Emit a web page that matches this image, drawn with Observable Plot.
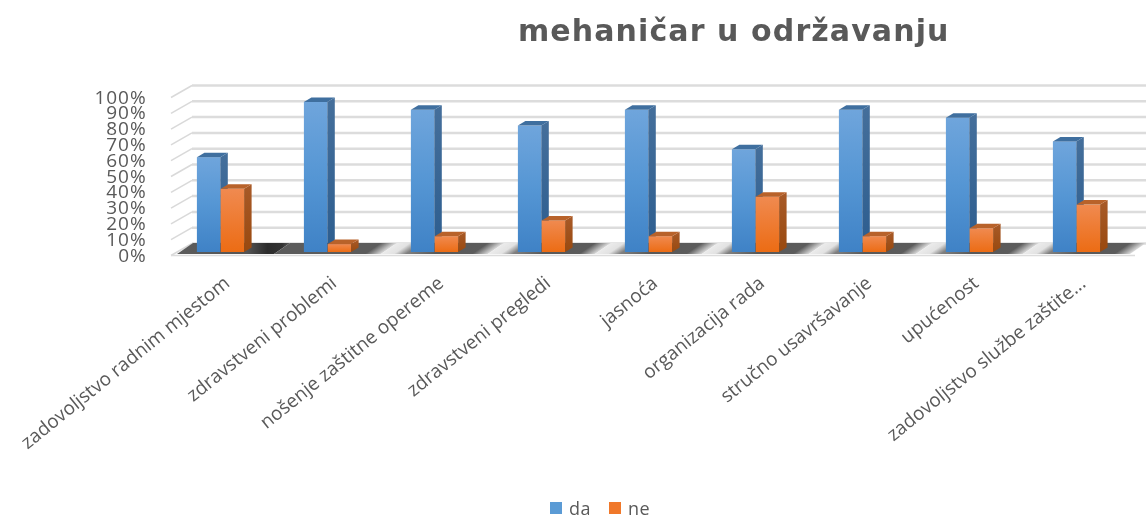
<!DOCTYPE html>
<html><head><meta charset="utf-8">
<script src="https://cdn.jsdelivr.net/npm/d3@7"></script>
<script src="https://cdn.jsdelivr.net/npm/@observablehq/plot@0.6"></script>
<style>
html,body{margin:0;padding:0;background:#fff;overflow:hidden}
#title{height:60px;box-sizing:border-box;padding:13px 0 0 518px;font:bold 30px/36px "DejaVu Sans",sans-serif;letter-spacing:1.1px;color:#595959;white-space:nowrap;filter:blur(.5px)}
#chart{filter:blur(.55px)}
#legend{height:36px;position:relative;font:18px "Open Sans",sans-serif;letter-spacing:.5px;color:#595959;filter:blur(.5px)}
#legend span{position:absolute;top:20px;line-height:16px}
#legend i{position:absolute;top:22px;width:12px;height:12px}
g[aria-label="y-axis tick label"]{letter-spacing:.9px}
</style></head><body>
<div id="title">mehaničar u održavanju</div>
<div id="chart"></div>
<div id="legend"><i style="left:550px;background:#5b9bd5"></i><span style="left:569px">da</span><i style="left:609px;background:#f0782a"></i><span style="left:628px">ne</span></div>
<script>
const categories = ["zadovoljstvo radnim mjestom","zdravstveni problemi","nošenje zaštitne opereme","zdravstveni pregledi","jasnoća","organizacija rada","stručno usavršavanje","upućenost","zadovoljstvo službe zaštite..."];
const da = [0.60,0.95,0.90,0.80,0.90,0.65,0.90,0.85,0.70];
const ne = [0.40,0.05,0.10,0.20,0.10,0.35,0.10,0.15,0.30];
const yTicks = [0,0.1,0.2,0.3,0.4,0.5,0.6,0.7,0.8,0.9,1];
const rows = categories.map((c,i)=>({c,da:da[i],ne:ne[i]}));

const NS="http://www.w3.org/2000/svg";
function poly(g,pts,fill){const p=document.createElementNS(NS,"polygon");p.setAttribute("points",pts.map(q=>q.join(",")).join(" "));p.setAttribute("fill",fill);p.setAttribute("stroke","none");g.appendChild(p);}
// extrude the front face of each bar, reading its geometry from the scaled rects
function extrude(side,top){return function(index,scales,values,dims,ctx,next){
  const g=next(index,scales,values,dims,ctx);
  const dx=7.5,dy=-4.5;
  g.querySelectorAll("rect").forEach(r=>{
    const x=+r.getAttribute("x"),y=+r.getAttribute("y"),w=+r.getAttribute("width"),h=+r.getAttribute("height");
    poly(g,[[x+w,y],[x+w+dx,y+dy],[x+w+dx,y+h+dy],[x+w,y+h]],side);
    poly(g,[[x,y],[x+dx,y+dy],[x+w+dx,y+dy],[x+w,y]],top);
  });
  return g;
};}
// floor parallelograms, one per band
function floor(index,scales,values,dims,ctx,next){
  const g=next(index,scales,values,dims,ctx);
  const rects=[...g.querySelectorAll("rect")];
  rects.forEach((r,i)=>{
    const x=+r.getAttribute("x"),w=+r.getAttribute("width"),y=+r.getAttribute("y");
    const fill=i===0?"url(#floorF)":i===1?"url(#floorH)":"url(#floorG)";
    poly(g,[[x+(i?0:10),y-1],[x+w,y-1],[x+w+16,y-12],[x+(i?16:26),y-12]],fill);
  });
  rects.forEach(r=>r.remove());
  return g;
}
// side wall diagonals
function wall(index,scales,values,dims,ctx,next){
  const g=next(index,scales,values,dims,ctx);
  const x0=dims.marginLeft+5;
  g.querySelectorAll("line").forEach(l=>{
    const y=+l.getAttribute("y1");
    const n=document.createElementNS(NS,"line");
    n.setAttribute("x1",x0);n.setAttribute("y1",y);n.setAttribute("x2",x0+21);n.setAttribute("y2",y-12);
    n.setAttribute("stroke","#d9d9d9");n.setAttribute("stroke-width",1.5);
    g.appendChild(n);l.remove();
  });
  return g;
}

const chart = Plot.plot({
  width:1146,height:420,
  marginLeft:166,marginRight:16,marginTop:37,marginBottom:225,
  style:{background:"white",overflow:"hidden",color:"#595959"},
  x:{domain:categories,padding:0,label:null},
  y:{domain:[0,1],label:null},
  marks:[
    Plot.ruleY(yTicks,{y:d=>d,stroke:"#dcdcdc",strokeWidth:2.5,dx:26,dy:-12}),
    Plot.ruleY(yTicks,{y:d=>d,stroke:"#d9d9d9",render:wall}),
    Plot.ruleY([0],{stroke:"#dcdcdc",strokeWidth:1.5,dx:5,dy:0}),
    Plot.barY(rows,{x:"c",y1:0,y2:0,fill:"none",render:floor}),
    Plot.barY(rows,{x:"c",y:"da",fill:"url(#blueG)",insetLeft:41.8,insetRight:41.8,dx:-11.9,dy:-3,render:extrude("url(#blueS)","#3f6f9f")}),
    Plot.barY(rows,{x:"c",y:"ne",fill:"url(#orangeG)",insetLeft:41.8,insetRight:41.8,dx:11.9,dy:-3,render:extrude("url(#orangeS)","#b8622a")}),
    Plot.axisY({ticks:yTicks,tickFormat:d3.format(".0%"),tickSize:0,tickPadding:20,fontSize:19,fontFamily:"'Open Sans',sans-serif",label:null}),
    Plot.axisX({tickSize:0,tickRotate:-39,tickPadding:25,dx:6,fontSize:19,fontFamily:"'Open Sans',sans-serif",label:null})
  ]
});
const skew='gradientTransform="matrix(1 0 -0.13 1 0.13 0)"';
d3.select(chart).append("defs").html(`
<linearGradient id="blueG" x1="0" y1="0" x2="0" y2="1"><stop offset="0" stop-color="#6fa5dc"/><stop offset="0.5" stop-color="#5596d4"/><stop offset="1" stop-color="#3f82c6"/></linearGradient>
<linearGradient id="blueS" x1="0" y1="0" x2="0" y2="1"><stop offset="0" stop-color="#456f9b"/><stop offset="1" stop-color="#2c5d8f"/></linearGradient>
<linearGradient id="orangeG" x1="0" y1="0" x2="0" y2="1"><stop offset="0" stop-color="#f08a50"/><stop offset="1" stop-color="#ec6c14"/></linearGradient>
<linearGradient id="orangeS" x1="0" y1="0" x2="0" y2="1"><stop offset="0" stop-color="#a85a28"/><stop offset="1" stop-color="#99490f"/></linearGradient>
<linearGradient id="floorG" x1="0" y1="0" x2="0.87" y2="0" ${skew}><stop offset="0" stop-color="#ebebeb"/><stop offset="0.12" stop-color="#e2e2e2"/><stop offset="0.23" stop-color="#808080"/><stop offset="0.5" stop-color="#585858"/><stop offset="0.85" stop-color="#5c5c5c"/><stop offset="1" stop-color="#dcdcdc"/></linearGradient>
<linearGradient id="floorH" x1="0" y1="0" x2="0.87" y2="0" ${skew}><stop offset="0" stop-color="#5c5c5c"/><stop offset="0.85" stop-color="#5c5c5c"/><stop offset="1" stop-color="#dcdcdc"/></linearGradient>
<linearGradient id="floorF" x1="0" y1="0" x2="1" y2="0"><stop offset="0" stop-color="#5c5c5c"/><stop offset="0.62" stop-color="#555"/><stop offset="0.8" stop-color="#2c2c2c"/><stop offset="0.93" stop-color="#333"/><stop offset="1" stop-color="#5c5c5c"/></linearGradient>`);
document.getElementById("chart").appendChild(chart);
</script></body></html>
